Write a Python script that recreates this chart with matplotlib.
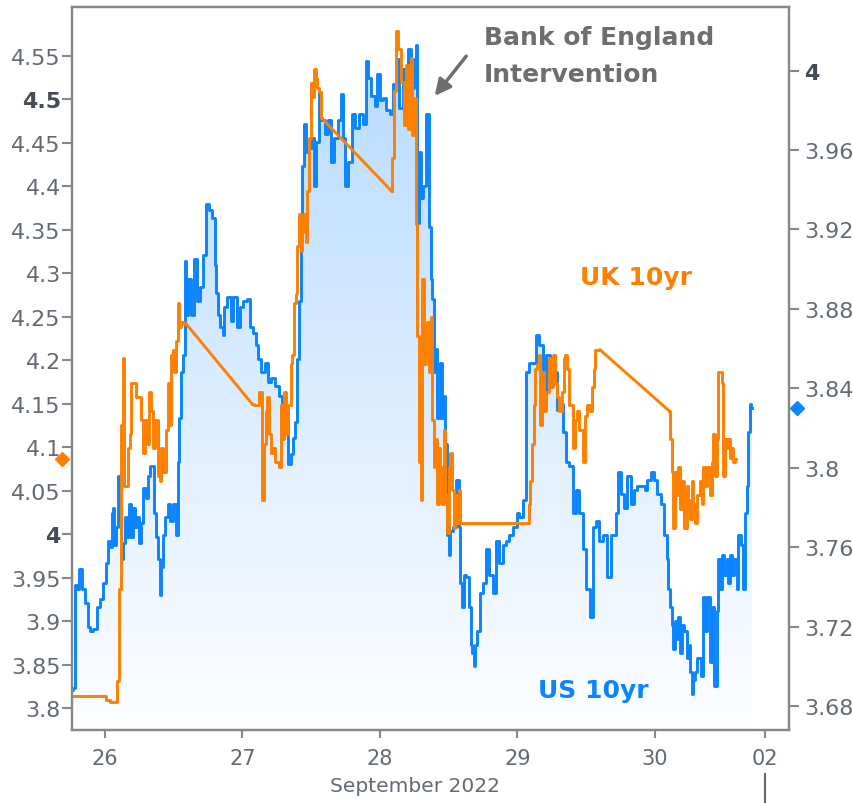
import numpy as np
import matplotlib.pyplot as plt
from matplotlib.lines import Line2D
from matplotlib.patches import PathPatch
from matplotlib.transforms import blended_transform_factory

# US 10yr (right axis): trading-day offset from Mon 26 Sep 2022, yield
us_days = [-0.240, -0.225, -0.211, -0.196, -0.175, -0.153, -0.138, -0.116, -0.095, -0.073,
           -0.044, -0.022, -0.007, 0.015, 0.029, 0.044, 0.051, 0.065, 0.073, 0.087,
           0.102, 0.116, 0.124, 0.138, 0.153, 0.167, 0.182, 0.196, 0.211, 0.225,
           0.240, 0.255, 0.269, 0.291, 0.305, 0.320, 0.342, 0.364, 0.378, 0.393,
           0.400, 0.415, 0.429, 0.451, 0.465, 0.487, 0.509, 0.524, 0.538, 0.545,
           0.560, 0.575, 0.582, 0.596, 0.618, 0.633, 0.655, 0.684, 0.705, 0.727,
           0.742, 0.764, 0.793, 0.800, 0.815, 0.829, 0.851, 0.865, 0.873, 0.902,
           0.924, 0.945, 0.975, 0.996, 1.018, 1.047, 1.069, 1.091, 1.105, 1.127,
           1.149, 1.178, 1.200, 1.222, 1.251, 1.273, 1.295, 1.324, 1.345, 1.360,
           1.375, 1.389, 1.404, 1.418, 1.433, 1.440, 1.455, 1.469, 1.491, 1.513,
           1.527, 1.549, 1.564, 1.585, 1.615, 1.636, 1.651, 1.687, 1.709, 1.724,
           1.738, 1.760, 1.782, 1.804, 1.833, 1.855, 1.891, 1.905, 1.927, 1.949,
           1.978, 1.985, 2.015, 2.036, 2.058, 2.087, 2.109, 2.131, 2.153, 2.175,
           2.196, 2.218, 2.240, 2.255, 2.269, 2.276, 2.291, 2.305, 2.327, 2.349,
           2.364, 2.371, 2.385, 2.400, 2.407, 2.422, 2.444, 2.458, 2.473, 2.480,
           2.495, 2.509, 2.516, 2.545, 2.567, 2.582, 2.589, 2.604, 2.618, 2.640,
           2.655, 2.662, 2.676, 2.691, 2.698, 2.713, 2.735, 2.764, 2.785, 2.807,
           2.836, 2.858, 2.880, 2.909, 2.931, 2.953, 2.982, 3.004, 3.025, 3.055,
           3.076, 3.098, 3.127, 3.149, 3.171, 3.200, 3.222, 3.244, 3.273, 3.295,
           3.316, 3.345, 3.367, 3.389, 3.418, 3.440, 3.462, 3.491, 3.513, 3.535,
           3.564, 3.585, 3.607, 3.636, 3.665, 3.702, 3.731, 3.738, 3.767, 3.789,
           3.811, 3.840, 3.862, 3.884, 3.913, 3.935, 3.956, 3.985, 4.007, 4.029,
           4.058, 4.080, 4.095, 4.102, 4.116, 4.131, 4.138, 4.153, 4.167, 4.175,
           4.189, 4.204, 4.225, 4.240, 4.247, 4.262, 4.276, 4.284, 4.298, 4.320,
           4.349, 4.356, 4.371, 4.393, 4.407, 4.422, 4.444, 4.458, 4.465, 4.480,
           4.495, 4.516, 4.531, 4.538, 4.553, 4.567, 4.589, 4.604, 4.611, 4.640,
           4.647, 4.662, 4.676, 4.684, 4.698, 4.705]
us_yield = [3.688, 3.689, 3.741, 3.739, 3.749, 3.739, 3.732, 3.720, 3.718, 3.719,
            3.730, 3.734, 3.742, 3.752, 3.763, 3.760, 3.777, 3.780, 3.761, 3.770,
            3.796, 3.775, 3.754, 3.762, 3.775, 3.765, 3.782, 3.765, 3.780, 3.770,
            3.775, 3.762, 3.772, 3.790, 3.785, 3.796, 3.801, 3.777, 3.765, 3.754,
            3.736, 3.750, 3.766, 3.775, 3.782, 3.773, 3.782, 3.766, 3.803, 3.825,
            3.848, 3.857, 3.904, 3.877, 3.895, 3.877, 3.905, 3.884, 3.891, 3.907,
            3.933, 3.930, 3.926, 3.902, 3.888, 3.877, 3.871, 3.867, 3.881, 3.886,
            3.874, 3.886, 3.871, 3.881, 3.884, 3.885, 3.871, 3.868, 3.862, 3.855,
            3.848, 3.853, 3.843, 3.845, 3.841, 3.836, 3.825, 3.820, 3.802, 3.807,
            3.815, 3.823, 3.855, 3.884, 3.914, 3.952, 3.973, 3.959, 3.961, 3.966,
            3.942, 3.964, 3.989, 3.975, 3.968, 3.975, 3.954, 3.966, 3.975, 3.988,
            3.966, 3.942, 3.954, 3.978, 3.971, 3.978, 3.973, 4.005, 3.996, 3.987,
            3.982, 3.998, 3.985, 3.986, 3.980, 3.978, 3.993, 4.006, 3.981, 4.001,
            3.989, 4.011, 3.991, 4.006, 4.013, 3.923, 3.959, 3.936, 3.942, 3.978,
            3.921, 3.895, 3.885, 3.848, 3.860, 3.825, 3.853, 3.825, 3.836, 3.812,
            3.766, 3.756, 3.768, 3.770, 3.794, 3.770, 3.742, 3.730, 3.746, 3.745,
            3.730, 3.711, 3.707, 3.700, 3.711, 3.718, 3.737, 3.742, 3.759, 3.746,
            3.737, 3.763, 3.752, 3.761, 3.763, 3.766, 3.770, 3.777, 3.775, 3.784,
            3.848, 3.853, 3.853, 3.867, 3.862, 3.834, 3.857, 3.841, 3.848, 3.829,
            3.832, 3.818, 3.803, 3.801, 3.777, 3.789, 3.777, 3.759, 3.739, 3.725,
            3.770, 3.773, 3.763, 3.766, 3.745, 3.766, 3.777, 3.798, 3.787, 3.780,
            3.796, 3.782, 3.789, 3.791, 3.791, 3.789, 3.794, 3.798, 3.794, 3.787,
            3.782, 3.766, 3.754, 3.739, 3.730, 3.721, 3.709, 3.723, 3.714, 3.725,
            3.707, 3.721, 3.718, 3.704, 3.711, 3.697, 3.686, 3.693, 3.697, 3.704,
            3.695, 3.735, 3.718, 3.735, 3.702, 3.730, 3.690, 3.728, 3.754, 3.739,
            3.756, 3.746, 3.754, 3.742, 3.756, 3.746, 3.754, 3.739, 3.766, 3.761,
            3.739, 3.777, 3.791, 3.818, 3.832, 3.830]

# UK 10yr (left axis)
uk_days = [-0.240, -0.007, 0.022, 0.051, 0.080, 0.095, 0.109, 0.124, 0.138, 0.145,
           0.160, 0.175, 0.182, 0.196, 0.218, 0.233, 0.255, 0.269, 0.284, 0.291,
           0.320, 0.327, 0.342, 0.356, 0.378, 0.393, 0.400, 0.415, 0.436, 0.451,
           0.465, 0.473, 0.487, 0.502, 0.509, 0.524, 0.538, 0.545, 0.560, 0.589,
           1.069, 1.105, 1.142, 1.149, 1.164, 1.178, 1.185, 1.200, 1.215, 1.222,
           1.251, 1.273, 1.287, 1.295, 1.309, 1.324, 1.331, 1.345, 1.360, 1.367,
           1.382, 1.396, 1.404, 1.418, 1.433, 1.440, 1.455, 1.469, 1.476, 1.491,
           1.505, 1.513, 1.527, 1.542, 1.549, 1.564, 1.578, 2.087, 2.095, 2.109,
           2.124, 2.145, 2.167, 2.182, 2.196, 2.218, 2.233, 2.240, 2.255, 2.269,
           2.276, 2.291, 2.305, 2.313, 2.327, 2.342, 2.349, 2.364, 2.371, 2.385,
           2.400, 2.407, 2.422, 2.436, 2.444, 2.458, 2.473, 2.480, 2.495, 2.509,
           2.516, 2.531, 2.545, 2.553, 2.567, 2.582, 2.589, 3.076, 3.091, 3.098,
           3.113, 3.127, 3.135, 3.149, 3.164, 3.171, 3.185, 3.200, 3.222, 3.236,
           3.244, 3.273, 3.280, 3.295, 3.316, 3.331, 3.345, 3.353, 3.367, 3.389,
           3.418, 3.425, 3.440, 3.462, 3.491, 3.498, 3.513, 3.535, 3.549, 3.564,
           3.571, 3.600, 4.102, 4.116, 4.131, 4.138, 4.153, 4.167, 4.175, 4.189,
           4.204, 4.225, 4.240, 4.247, 4.262, 4.276, 4.284, 4.298, 4.320, 4.335,
           4.349, 4.356, 4.371, 4.393, 4.407, 4.422, 4.429, 4.444, 4.458, 4.465,
           4.480, 4.495, 4.502, 4.516, 4.531, 4.538, 4.553, 4.567, 4.575, 4.589]
uk_yield = [3.814, 3.814, 3.810, 3.807, 3.807, 3.831, 3.937, 4.126, 4.202, 4.055,
            4.055, 4.099, 4.115, 4.174, 4.174, 4.158, 4.158, 4.131, 4.093, 4.131,
            4.104, 4.164, 4.142, 4.099, 4.131, 4.067, 4.061, 4.099, 4.072, 4.120,
            4.174, 4.126, 4.206, 4.212, 4.186, 4.222, 4.266, 4.238, 4.244, 4.242,
            4.150, 4.148, 4.164, 4.039, 4.104, 4.142, 4.158, 4.115, 4.093, 4.099,
            4.083, 4.077, 4.148, 4.110, 4.164, 4.115, 4.148, 4.148, 4.196, 4.206,
            4.266, 4.276, 4.331, 4.368, 4.325, 4.347, 4.368, 4.336, 4.395, 4.455,
            4.519, 4.503, 4.535, 4.524, 4.513, 4.508, 4.478, 4.394, 4.432, 4.509,
            4.578, 4.558, 4.520, 4.470, 4.539, 4.466, 4.547, 4.459, 4.501, 4.357,
            4.228, 4.083, 4.039, 4.293, 4.196, 4.238, 4.244, 4.186, 4.250, 4.131,
            4.077, 4.110, 4.035, 4.099, 4.077, 4.035, 4.120, 4.045, 4.001, 4.077,
            4.093, 4.051, 4.007, 4.045, 4.013, 4.051, 4.013, 4.013, 4.035, 4.061,
            4.104, 4.148, 4.190, 4.196, 4.206, 4.126, 4.186, 4.142, 4.164, 4.202,
            4.169, 4.206, 4.174, 4.158, 4.142, 4.164, 4.202, 4.206, 4.190, 4.148,
            4.099, 4.131, 4.142, 4.120, 4.083, 4.136, 4.148, 4.142, 4.169, 4.190,
            4.212, 4.212, 4.142, 4.110, 4.072, 4.007, 4.072, 4.045, 4.077, 4.029,
            4.061, 4.007, 4.055, 4.039, 4.018, 4.061, 4.035, 4.013, 4.045, 4.061,
            4.035, 4.077, 4.055, 4.077, 4.045, 4.083, 4.115, 4.067, 4.110, 4.186,
            4.186, 4.174, 4.067, 4.110, 4.099, 4.110, 4.088, 4.099, 4.083, 4.086]

day_ticks = [0, 1, 2, 3, 4, 4.8]
day_labels = ['26', '27', '28', '29', '30', '02']
uk_ticks = np.round(np.arange(3.80, 4.551, 0.05), 2)
us_ticks = np.round(np.arange(3.68, 4.001, 0.04), 2)

orange = '#ff8000'
blue = '#0a84ff'
grey = '#626a73'
lw = 2.1

fig = plt.figure(figsize=(8.54, 8.04), dpi=100)
ax = fig.add_axes([0.0843, 0.0908, 0.8396, 0.8993])
ax2 = ax.twinx()
ax.set_zorder(ax2.get_zorder() + 1)
ax.patch.set_visible(False)

xmin, xmax = -0.24, 4.975

# gradient area under the US line
area = ax2.fill_between(us_days, us_yield, 3.668, step='mid', facecolor='none', edgecolor='none')
clip = PathPatch(area.get_paths()[0], transform=ax2.transData, facecolor='none', edgecolor='none')
ax2.add_patch(clip)
grad = np.zeros((256, 1, 4))
grad[:, 0, 1] = 0.5
grad[:, 0, 2] = 1.0
grad[:, 0, 3] = np.linspace(0.01, 0.30, 256)
img = ax2.imshow(grad, extent=[xmin, xmax, 3.668, 4.032], origin='lower', aspect='auto', zorder=1)
img.set_clip_path(clip)

ax2.plot(us_days, us_yield, color=blue, lw=lw, drawstyle='steps-mid', zorder=2)

# UK: stepped ticks, straight lines across the data gaps
uk_d = np.array(uk_days)
uk_y = np.array(uk_yield)
gap = np.where(np.diff(uk_d) > 0.2)[0]
starts = np.r_[0, gap + 1]
ends = np.r_[gap + 1, len(uk_d)]
for s, e in zip(starts, ends):
    ax.plot(uk_d[s:e], uk_y[s:e], color=orange, lw=lw, drawstyle='steps-mid')
for g in gap:
    ax.plot(uk_d[g:g + 2], uk_y[g:g + 2], color=orange, lw=lw)

ax.set_xlim(xmin, xmax)
ax.set_ylim(3.775, 4.606)
ax2.set_xlim(xmin, xmax)
ax2.set_ylim(3.668, 4.032)

# last value markers
tl = blended_transform_factory(ax.transAxes, ax.transData)
ax.plot([-0.014], [uk_y[-1]], marker='D', ms=7, color=orange, transform=tl, clip_on=False)
tr = blended_transform_factory(ax2.transAxes, ax2.transData)
ax2.plot([1.011], [us_yield[-1]], marker='D', ms=7, color=blue, transform=tr, clip_on=False)

# ticks
ax.set_xticks(day_ticks, day_labels)
ax.set_yticks(uk_ticks, [f'{v:g}' for v in uk_ticks])
ax2.set_yticks(us_ticks, [f'{v:g}' for v in us_ticks])
ax.tick_params(axis='x', direction='out', length=6, width=1.5, color='#888888',
               labelsize=15, labelcolor=grey, pad=7)
ax.tick_params(axis='y', direction='out', length=7, width=1.5, color='#888888',
               labelsize=16, labelcolor=grey, pad=1)
ax2.tick_params(axis='y', direction='out', length=7, width=1.5, color='#888888',
                labelsize=16, labelcolor=grey, pad=4)
for lab in ax.get_yticklabels() + ax2.get_yticklabels():
    if lab.get_text() in ('4', '4.5'):
        lab.set_fontweight('bold')
        lab.set_color('#454c55')

for a in (ax, ax2):
    for s in a.spines.values():
        s.set_color('#888888')
        s.set_linewidth(1.6)

ax.set_xlabel('September 2022', fontsize=14.5, color=grey)
ax.xaxis.set_label_coords(0.478, -0.064)

# labels and annotation
ax.text(0.5746, 0.9488, 'Bank of England', transform=ax.transAxes, fontsize=18,
        fontweight='bold', color='#6e6e6e', va='baseline')
ax.text(0.5746, 0.8976, 'Intervention', transform=ax.transAxes, fontsize=18,
        fontweight='bold', color='#6e6e6e', va='baseline')
ax.annotate('', xy=(0.5035, 0.874), xytext=(0.5523, 0.935), xycoords='axes fraction',
            arrowprops=dict(arrowstyle='-|>', color='#6e6e6e', lw=2.5, mutation_scale=24))
ax.text(0.7085, 0.617, 'UK 10yr', transform=ax.transAxes, fontsize=18,
        fontweight='bold', color=orange, va='baseline')
ax.text(0.65, 0.0456, 'US 10yr', transform=ax.transAxes, fontsize=18,
        fontweight='bold', color=blue, va='baseline')

fig.add_artist(Line2D([765 / 854, 765 / 854], [0, 1 - 775 / 804], color='#666666', lw=1.5))

plt.savefig('out.png', dpi=100)
